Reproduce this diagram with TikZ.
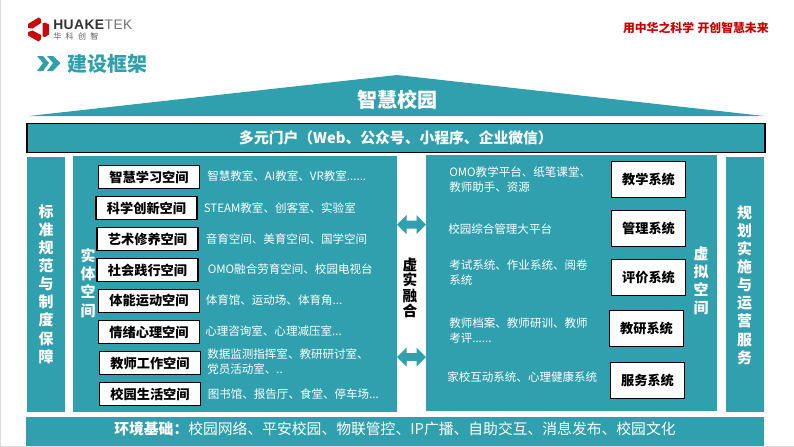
\documentclass[tikz,border=0pt]{standalone}
\usepackage{fontspec}
\setmainfont{Noto Sans CJK SC}
\newfontfamily\latinlogo{Liberation Sans}
\definecolor{teal1}{HTML}{30A0AE}
\definecolor{logored}{HTML}{C90A0A}
\tikzset{
  x=0.75pt,y=-0.75pt,
  panel/.style={fill=teal1,draw=none},
  spacebox/.style={draw=black,line width=1.1pt,fill=white,minimum width=75.75pt,minimum height=17.25pt,inner sep=0pt,font=\fontsize{9.9pt}{12pt}\selectfont\bfseries,text=black},
  sysbox/.style={draw=black,line width=1pt,fill=white,minimum width=55.5pt,minimum height=27pt,inner sep=0pt,font=\fontsize{9.9pt}{12pt}\selectfont\bfseries,text=black},
  desc/.style={anchor=west,inner sep=0pt,text=white,font=\fontsize{8.65pt}{11.2pt}\selectfont,align=left},
  vtext/.style={inner sep=0pt,align=center,text=white,font=\fontsize{11.2pt}{13.6pt}\selectfont\bfseries},
}
\begin{document}
\begin{tikzpicture}
\useasboundingbox (0,0) rectangle (794,447);
\fill[white] (0,0) rectangle (794,447);
\fill[black!13] (0,0) rectangle (1,447);
\fill[black!13] (0,446) rectangle (794,447);
% logo
\fill[logored] (28,24) -- (38.5,17.5) -- (41,19) -- (41,23) -- (32.5,28.5) -- (28,28) -- cycle;
\fill[logored] (28,32) -- (32.5,30.5) -- (41,35) -- (41,39) -- (38.5,41.5) -- (28,35.5) -- cycle;
\fill[logored] (42.5,23.5) -- (45,22.5) -- (49,24.5) -- (49,34.5) -- (45,37) -- (42.5,36.5) -- cycle;
\node[anchor=west,inner sep=0pt,text=black!80] (brand) at (53,24.5) {\latinlogo\fontsize{10.4pt}{12pt}\selectfont\addfontfeature{LetterSpace=3}\textbf{HUAKE}\color{black!55}TEK};
\node[anchor=west,inner sep=0pt,text=black!65] (brandcn) at (53,36) {\fontsize{6pt}{7pt}\selectfont 华\hspace{3.3pt}科\hspace{3.3pt}创\hspace{3.3pt}智};
% slogan
\node[anchor=east,inner sep=0pt,text=red!80!black] (slogan) at (769,28) {\fontsize{8.9pt}{11pt}\selectfont\bfseries 用中华之科学\hspace{2.5pt}开创智慧未来};
% heading
\fill[teal1] (37,56) -- (43,56) -- (49,63) -- (43,71) -- (37,71) -- (43,63) -- cycle;
\fill[teal1] (47,56) -- (53,56) -- (60.5,63) -- (53,71) -- (47,71) -- (53,63) -- cycle;
\node[anchor=west,inner sep=0pt,text=teal1] (heading) at (67,64) {\fontsize{15pt}{18pt}\selectfont\bfseries 建设框架};
% roof
\fill[teal1] (29,116) -- (397,75) -- (764,116) -- cycle;
\node[inner sep=0pt,text=white] (roof) at (397,100) {\fontsize{15pt}{18pt}\selectfont\bfseries 智慧校园};
% portal
\node[draw=black,line width=1.1pt,fill=teal1,minimum width=553.5pt,minimum height=21.75pt,inner sep=0pt,text=white] (portal) at (396,138) {\fontsize{11.1pt}{12pt}\selectfont\bfseries 多元门户（Web、公众号、小程序、企业微信）};
% panels
\fill[teal1] (27,157) rectangle (65,412);
\fill[teal1] (73,156) rectangle (397,412);
\fill[teal1] (426,155) rectangle (717,411);
\fill[teal1] (726,157) rectangle (764,412);
\node[anchor=west,minimum height=21.75pt,minimum width=553.5pt,inner sep=0pt,fill=teal1] (envbar) at (26,431.5) {};
\node[inner sep=0pt,text=white] (env) at (395,429) {\fontsize{11.1pt}{13pt}\selectfont\textbf{环境基础：}校园网络、平安校园、物联管控、IP广播、自助交互、消息发布、校园文化};
% vertical labels
\node[vtext] (std) at (46,284) {标\\准\\规\\范\\与\\制\\度\\保\\障};
\node[vtext] (plan) at (744.5,285) {规\\划\\实\\施\\与\\运\\营\\服\\务};
\node[vtext] (phys) at (88,283) {实\\体\\空\\间};
\node[vtext] (virt) at (701,281) {虚\\拟\\空\\间};
\node[inner sep=0pt,align=center,text=black,font=\fontsize{11pt}{11.4pt}\selectfont\bfseries] (fuse) at (410,288) {虚\\实\\融\\合};
% arrows
\foreach \n/\c in {arrowa/224.5,arrowb/357}{
  \fill[teal1] (397,\c) -- (406.5,\c-9.5) -- (406.5,\c-4) -- (416.5,\c-4) -- (416.5,\c-9.5) -- (426,\c) -- (416.5,\c+9.5) -- (416.5,\c+4) -- (406.5,\c+4) -- (406.5,\c+9.5) -- cycle;
}
% left boxes
\node[spacebox] (s1) at (149,177) {智慧学习空间};
\node[spacebox] (s2) at (146.5,208) {科学创新空间};
\node[spacebox] (s3) at (147.5,239) {艺术修养空间};
\node[spacebox] (s4) at (147.5,270) {社会践行空间};
\node[spacebox] (s5) at (149,301) {体能运动空间};
\node[spacebox] (s6) at (149,332) {情绪心理空间};
\node[spacebox] (s7) at (150,363) {教师工作空间};
\node[spacebox] (s8) at (150,394) {校园生活空间};
\node[desc] (d1) at (207,176.5) {智慧教室、AI教室、VR教室......};
\node[desc] (d2) at (203.5,208.5) {STEAM教室、创客室、实验室};
\node[desc] (d3) at (205.5,239.5) {音育空间、美育空间、国学空间};
\node[desc] (d4) at (207.5,269) {OMO融合劳育空间、校园电视台};
\node[desc] (d5) at (205.5,300) {体育馆、运动场、体育角...};
\node[desc] (d6) at (205,331) {心理咨询室、心理减压室...};
\node[desc] (d7) at (207,362) {数据监测指挥室、教研研讨室、\\党员活动室、..};
\node[desc] (d8) at (207.5,394) {图书馆、报告厅、食堂、停车场...};
% right boxes
\node[sysbox] (t1) at (648.5,179.5) {教学系统};
\node[sysbox] (t2) at (648.5,228.5) {管理系统};
\node[sysbox] (t3) at (648.5,277.5) {评价系统};
\node[sysbox] (t4) at (646.5,328.5) {教研系统};
\node[sysbox] (t5) at (647.5,380.5) {服务系统};
\node[desc] (e1) at (449,180) {OMO教学平台、纸笔课堂、\\教师助手、资源};
\node[desc] (e2) at (448,229) {校园综合管理大平台};
\node[desc] (e3) at (449,273) {考试系统、作业系统、阅卷\\系统};
\node[desc] (e4) at (449,331) {教师档案、教师研训、教师\\考评......};
\node[desc] (e5) at (447,377) {家校互动系统、心理健康系统};
\end{tikzpicture}
\end{document}
